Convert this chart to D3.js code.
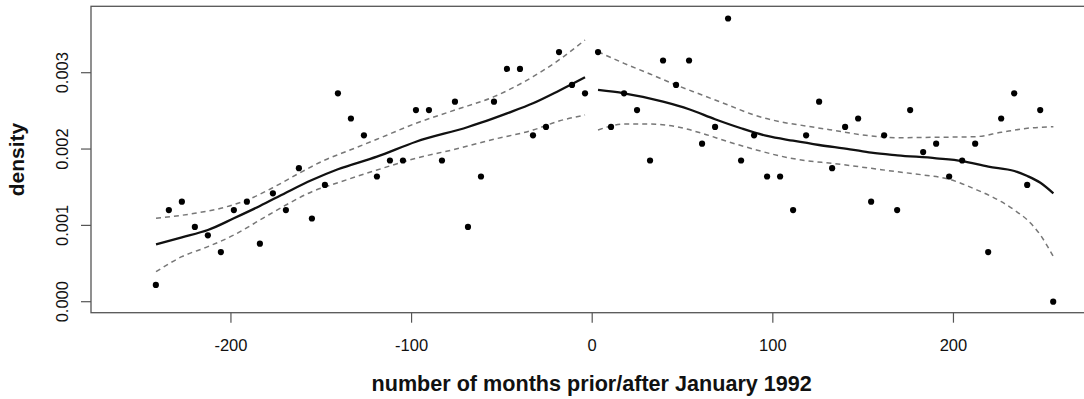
<!DOCTYPE html>
<html>
<head>
<meta charset="utf-8">
<script src="https://cdn.jsdelivr.net/npm/d3@7"></script>
<style>
  body { margin: 0; background: #fff; }
  text { font-family: 'Liberation Sans', Arial, sans-serif; fill: #111; }
</style>
</head>
<body>
<svg></svg>
<script>
const WIDTH = 1084;
const HEIGHT = 399;

// binned monthly densities, before and after January 1992
const monthsBefore = [-241.3, -234.1, -226.9, -219.7, -212.5, -205.3, -198.1, -190.9, -183.7, -176.5,
  -169.3, -162.1, -154.9, -147.7, -140.5, -133.3, -126.1, -118.9, -111.7, -104.5,
  -97.3, -90.1, -82.9, -75.7, -68.5, -61.3, -54.1, -46.9, -39.7, -32.5,
  -25.3, -18.1, -10.9, -3.7];
const densityBefore = [0.00022, 0.00120, 0.00131, 0.00098, 0.00087, 0.00065, 0.00120, 0.00131, 0.00076, 0.00142,
  0.00120, 0.00175, 0.00109, 0.00153, 0.00273, 0.00240, 0.00218, 0.00164, 0.00185, 0.00185,
  0.00251, 0.00251, 0.00185, 0.00262, 0.00098, 0.00164, 0.00262, 0.00305, 0.00305, 0.00218,
  0.00229, 0.00327, 0.00284, 0.00273];

const monthsAfter = [3.5, 10.7, 17.9, 25.1, 32.3, 39.5, 46.7, 53.9, 61.1, 68.3,
  75.5, 82.7, 89.9, 97.1, 104.3, 111.5, 118.7, 125.9, 133.1, 140.3,
  147.5, 154.7, 161.9, 169.1, 176.3, 183.5, 190.7, 197.9, 205.1, 212.3,
  219.5, 226.7, 233.9, 241.1, 248.3, 255.5];
const densityAfter = [0.00327, 0.00229, 0.00273, 0.00251, 0.00185, 0.00316, 0.00284, 0.00316, 0.00207, 0.00229,
  0.00371, 0.00185, 0.00218, 0.00164, 0.00164, 0.00120, 0.00218, 0.00262, 0.00175, 0.00229,
  0.00240, 0.00131, 0.00218, 0.00120, 0.00251, 0.00196, 0.00207, 0.00164, 0.00185, 0.00207,
  0.00065, 0.00240, 0.00273, 0.00153, 0.00251, 0.00000];

// smooth fit (x in months, y in density x 1000)
const fitBeforeX = [-241.2, -226.9, -212.5, -198.1, -183.7, -169.3, -154.9, -140.5, -118.9, -97.3, -68.5, -61.3, -46.9, -32.5, -18.1, -3.7];
const fitBeforeY = [0.752, 0.844, 0.939, 1.093, 1.254, 1.428, 1.594, 1.735, 1.900, 2.096, 2.289, 2.345, 2.468, 2.599, 2.764, 2.940];
const upperBeforeX = [-241.2, -219.7, -205.3, -190.9, -176.5, -162.1, -147.7, -133.8, -118.9, -97.3, -75.7, -54.1, -32.5, -18.1, -3.7];
const upperBeforeY = [1.093, 1.158, 1.224, 1.332, 1.494, 1.682, 1.856, 1.987, 2.128, 2.337, 2.511, 2.686, 2.948, 3.167, 3.429];
const lowerBeforeX = [-241.2, -226.9, -212.5, -198.1, -183.7, -169.3, -154.9, -140.5, -118.9, -97.3, -75.7, -54.1, -32.5, -18.1, -3.7];
const lowerBeforeY = [0.393, 0.590, 0.721, 0.874, 1.070, 1.267, 1.441, 1.559, 1.725, 1.879, 1.997, 2.128, 2.249, 2.367, 2.446];

const fitAfterX = [3.5, 17.9, 39.5, 53.9, 68.3, 82.7, 97.1, 111.5, 125.9, 143.0, 154.8, 169.2, 190.8, 205.2, 219.6, 234.0, 241.2, 248.4, 255.6];
const fitAfterY = [2.774, 2.730, 2.620, 2.521, 2.390, 2.272, 2.171, 2.109, 2.053, 1.997, 1.952, 1.918, 1.879, 1.843, 1.769, 1.712, 1.647, 1.559, 1.420];
const upperAfterX = [3.5, 17.9, 32.3, 46.7, 61.1, 75.5, 89.9, 104.3, 118.7, 133.1, 154.8, 169.2, 190.8, 212.4, 226.8, 241.2, 255.6];
const upperAfterY = [3.275, 3.123, 2.983, 2.839, 2.708, 2.577, 2.446, 2.358, 2.302, 2.249, 2.171, 2.149, 2.154, 2.162, 2.219, 2.272, 2.293];
const lowerAfterX = [3.5, 17.9, 32.3, 46.7, 61.1, 75.5, 89.9, 104.3, 118.7, 133.1, 154.8, 169.2, 183.6, 198.0, 212.4, 226.8, 234.0, 241.2, 248.4, 255.6];
const lowerAfterY = [2.249, 2.328, 2.328, 2.293, 2.206, 2.096, 1.997, 1.909, 1.847, 1.813, 1.747, 1.703, 1.660, 1.604, 1.473, 1.310, 1.201, 1.070, 0.874, 0.590];

const xTicks = [-200, -100, 0, 100, 200];
const yTicks = [0, 0.001, 0.002, 0.003];

const plot = {left: 91, right: 1092.4, top: 6.3, bottom: 312.7};

const svg = d3.select('svg').attr('width', WIDTH).attr('height', HEIGHT);

const x = d3.scaleLinear().domain([-277.2, 277.2]).range([plot.left, plot.right]);
const y = d3.scaleLinear().domain([-0.000144, 0.00387]).range([plot.bottom, plot.top]);

// box
svg.append('rect')
  .attr('x', plot.left).attr('y', plot.top)
  .attr('width', plot.right - plot.left).attr('height', plot.bottom - plot.top)
  .attr('fill', 'none').attr('stroke', '#555').attr('stroke-width', 1.3);

// axes (R style: ticks outside, no domain line)
const xAxis = svg.append('g')
  .attr('transform', `translate(0,${plot.bottom})`)
  .call(d3.axisBottom(x).tickValues(xTicks).tickSize(10).tickFormat(d => String(d)));
const yAxis = svg.append('g')
  .attr('transform', `translate(${plot.left},0)`)
  .call(d3.axisLeft(y).tickValues(yTicks).tickSize(10).tickFormat(d3.format('.3f')));

for (const g of [xAxis, yAxis]) {
  g.select('.domain').remove();
  g.selectAll('.tick line').attr('stroke', '#555').attr('stroke-width', 1.2);
  g.selectAll('.tick text')
    .attr('font-family', "'Liberation Sans', Arial, sans-serif")
    .attr('font-size', 16.5).attr('fill', '#111');
}
xAxis.selectAll('.tick text').attr('dy', null).attr('y', 38.3);
yAxis.selectAll('.tick text')
  .attr('text-anchor', 'middle')
  .attr('x', null).attr('dy', null)
  .attr('transform', d => `translate(${68 - plot.left},${y(d)}) rotate(-90)`)
  .attr('y', 0);
yAxis.selectAll('.tick text').each(function(d) {
  d3.select(this.parentNode).attr('transform', `translate(0,0)`);
  d3.select(this.parentNode).select('line').attr('y1', y(d)).attr('y2', y(d));
});

// axis titles
svg.append('text')
  .attr('x', (plot.left + plot.right) / 2).attr('y', 391)
  .attr('text-anchor', 'middle').attr('font-size', 21.6).attr('font-weight', 'bold')
  .text('number of months prior/after January 1992');
svg.append('text')
  .attr('transform', `translate(24,${(plot.top + plot.bottom) / 2}) rotate(-90)`)
  .attr('text-anchor', 'middle').attr('font-size', 21).attr('font-weight', 'bold')
  .text('density');

const line = d3.line()
  .x(d => x(d[0]))
  .y(d => y(d[1] / 1000))
  .curve(d3.curveMonotoneX);

function drawCurve(xs, ys, dashed) {
  svg.append('path')
    .attr('d', line(d3.zip(xs, ys)))
    .attr('fill', 'none')
    .attr('stroke', dashed ? '#777' : '#111')
    .attr('stroke-width', dashed ? 1.5 : 2.3)
    .attr('stroke-dasharray', dashed ? '5,4' : null);
}

drawCurve(upperBeforeX, upperBeforeY, true);
drawCurve(lowerBeforeX, lowerBeforeY, true);
drawCurve(upperAfterX, upperAfterY, true);
drawCurve(lowerAfterX, lowerAfterY, true);
drawCurve(fitBeforeX, fitBeforeY, false);
drawCurve(fitAfterX, fitAfterY, false);

const points = d3.zip(monthsBefore, densityBefore).concat(d3.zip(monthsAfter, densityAfter));
svg.append('g')
  .selectAll('circle')
  .data(points)
  .enter()
  .append('circle')
  .attr('cx', d => x(d[0]))
  .attr('cy', d => y(d[1]))
  .attr('r', 3.1)
  .attr('fill', '#000');
</script>
</body>
</html>
